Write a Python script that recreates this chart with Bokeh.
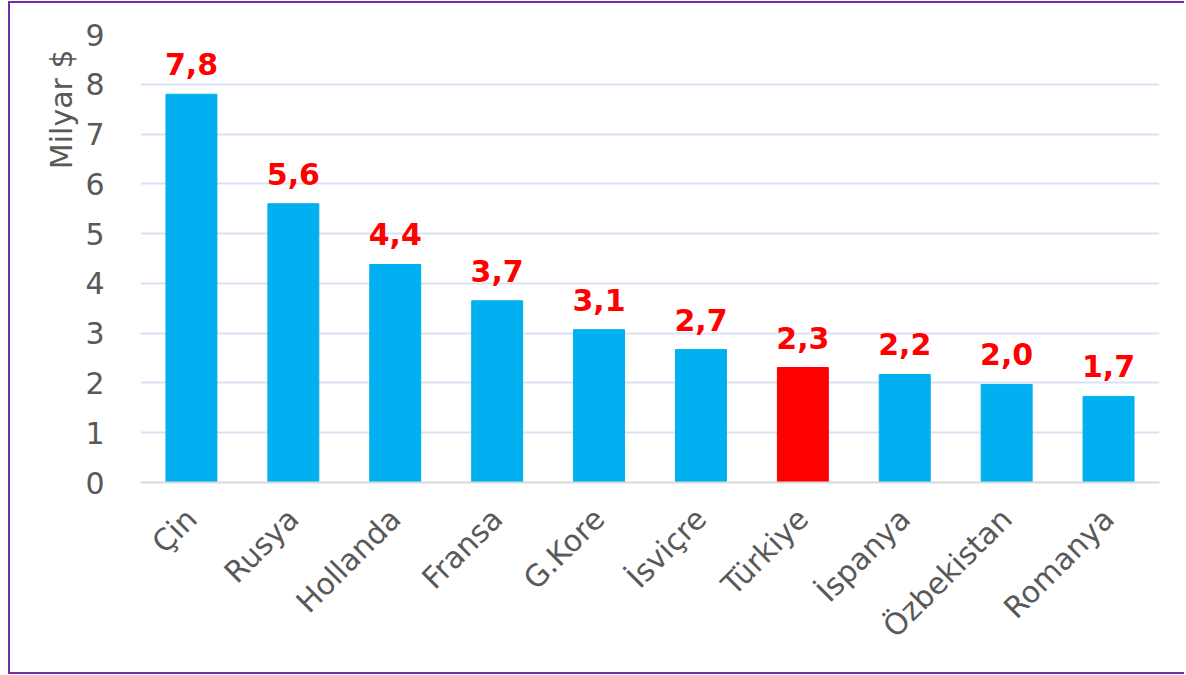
from math import pi
from bokeh.plotting import figure
from bokeh.models import ColumnDataSource, LabelSet, Title, FixedTicker
from bokeh.core.properties import value
from bokeh.embed import file_html
from bokeh.resources import INLINE

countries = ["Çin", "Rusya", "Hollanda", "Fransa", "G.Kore", "İsviçre",
             "Türkiye", "İspanya", "Özbekistan", "Romanya"]
values = [7.8, 5.6, 4.38, 3.65, 3.07, 2.67, 2.31, 2.17, 1.97, 1.73]
value_labels = ["7,8", "5,6", "4,4", "3,7", "3,1", "2,7", "2,3", "2,2", "2,0", "1,7"]
y_ticks = [0, 1, 2, 3, 4, 5, 6, 7, 8, 9]
highlight = "Türkiye"
y_title = "Milyar $"

FONT = "DejaVu Sans"
GRAY = "#595959"
colors = ["#FF0000" if c == highlight else "#00B0F0" for c in countries]

src = ColumnDataSource(dict(country=countries, value=values, label=value_labels, color=colors))

p = figure(x_range=countries, y_range=(0, 9), width=1176, height=673,
           output_backend="svg", toolbar_location=None,
           min_border_left=130, min_border_right=27, min_border_top=31, min_border_bottom=194)
p.styles = {"margin-left": "8px", "margin-top": "1px",
            "border-left": "2px solid #7030A0", "border-top": "2px solid #7030A0",
            "border-bottom": "2px solid #7030A0"}
p.outline_line_color = None
p.background_fill_color = "white"
p.border_fill_color = "white"

p.vbar(x="country", top="value", width=0.5, color="color", source=src)

p.xgrid.grid_line_color = None
p.ygrid.grid_line_color = "#D9E1F2"
p.ygrid.grid_line_width = 2
p.yaxis.ticker = FixedTicker(ticks=y_ticks)

p.yaxis.axis_line_color = None
p.yaxis.major_tick_line_color = None
p.yaxis.minor_tick_line_color = None
p.yaxis.major_label_standoff = 30
p.yaxis.major_label_text_font = FONT
p.yaxis.major_label_text_font_size = "30px"
p.yaxis.major_label_text_color = GRAY

p.xaxis.axis_line_color = "#D9D9D9"
p.xaxis.axis_line_width = 2
p.xaxis.major_tick_line_color = None
p.xaxis.minor_tick_line_color = None
p.xaxis.major_label_orientation = pi / 4
p.xaxis.major_label_standoff = 25
p.xaxis.major_label_text_font = FONT
p.xaxis.major_label_text_font_size = "30px"
p.xaxis.major_label_text_color = GRAY

labels = LabelSet(x="country", y="value", text="label", source=src,
                  text_align="center", text_baseline="alphabetic", y_offset=19,
                  text_font=value(FONT), text_font_size=value("30px"),
                  text_font_style=value("bold"), text_color=value("#FF0000"))
p.add_layout(labels)

p.add_layout(Title(text=y_title, align="right", offset=15, standoff=8,
                   text_font=FONT, text_font_size="30px", text_font_style="normal",
                   text_color=GRAY), "left")

open("out.html", "w").write(file_html(p, INLINE))
